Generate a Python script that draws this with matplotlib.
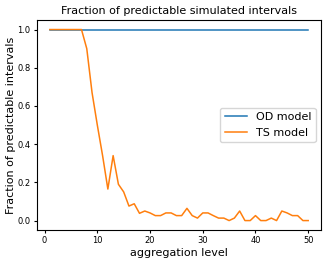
import matplotlib
matplotlib.use('Agg')
import matplotlib.pyplot as plt

# aggregation levels 1..50
levels = list(range(1, 51))
od_frac = [1.0] * 50
ts_frac = [1.0, 1.0, 1.0, 1.0, 1.0, 1.0, 1.0, 0.9, 0.67, 0.5,
           0.34, 0.165, 0.34, 0.19, 0.15, 0.076, 0.088, 0.038, 0.05, 0.04,
           0.026, 0.026, 0.04, 0.04, 0.026, 0.026, 0.064, 0.026, 0.013, 0.04,
           0.04, 0.026, 0.013, 0.013, 0.0, 0.013, 0.05, 0.0, 0.0, 0.026,
           0.0, 0.0, 0.013, 0.0, 0.05, 0.04, 0.026, 0.026, 0.0, 0.0]

fig, ax = plt.subplots(figsize=(3.27, 2.63), dpi=100)
ax.plot(levels, od_frac, label='OD model', lw=1.1)
ax.plot(levels, ts_frac, label='TS model', lw=1.1)

ax.set_title('Fraction of predictable simulated intervals', fontsize=8, pad=4)
ax.set_xlabel('aggregation level', fontsize=8, labelpad=2)
ax.set_ylabel('Fraction of predictable intervals', fontsize=8, labelpad=1)
ax.tick_params(labelsize=6, length=2.5, pad=2)
ax.set_xticks([0, 10, 20, 30, 40, 50])
ax.set_yticks([0.0, 0.2, 0.4, 0.6, 0.8, 1.0])
ax.legend(loc='center right', fontsize=8)

plt.subplots_adjust(left=0.113, right=0.982, top=0.924, bottom=0.125)
plt.savefig('out.png', dpi=100)
